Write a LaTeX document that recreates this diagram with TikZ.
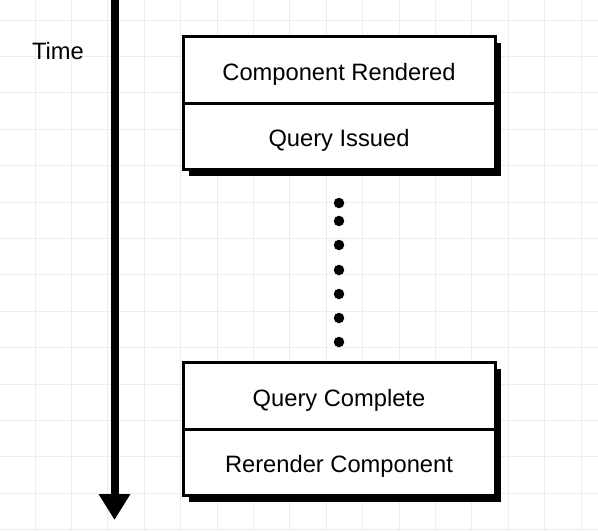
\documentclass[tikz,border=0pt]{standalone}
\usepackage{fontspec}
\setmainfont{Liberation Sans}
\usetikzlibrary{arrows.meta,shadows}
\tikzset{
  cell/.style={draw=black, line width=3pt, fill=white, minimum width=312pt,
    inner sep=0pt, text height=21pt, text depth=0pt,
    font=\fontsize{23.7}{28}\selectfont,
    drop shadow={shadow xshift=6pt, shadow yshift=-7pt, fill=black, opacity=1}},
  gridline/.style={draw=black!7, line width=1pt},
  dot/.style={circle, fill=black, minimum size=10.5pt, inner sep=0pt},
  timearrow/.style={line width=8pt, -{Triangle[length=26pt,width=30pt]}},
  lbl/.style={font=\fontsize{23.7}{28}\selectfont, inner sep=0pt}
}
\begin{document}
\begin{tikzpicture}[x=1pt,y=-1pt]
  \useasboundingbox (0,0) rectangle (598,531);
  \fill[white] (0,0) rectangle (598,531);
  % grid
  \foreach \k in {-1,...,15} \draw[gridline] ({35+36.4*\k},0) -- ({35+36.4*\k},531);
  \foreach \k in {0,...,14} \draw[gridline] (0,{20+36.4*\k}) -- (598,{20+36.4*\k});
  % time axis
  \coordinate (ttop) at (114.5,-2);
  \coordinate (tbot) at (114.5,520);
  \draw[timearrow] (ttop) -- (tbot);
  \node[lbl] (time) at (58,51.5) {Time};
  % first box
  \node[cell, minimum height=67pt] (cr) at (339,69.5) {Component Rendered};
  \node[cell, minimum height=66pt] (qi) at (339,136) {Query Issued};
  % dots
  \foreach \y [count=\i] in {203,221,245,270,294,318,342}
    \node[dot] (d\i) at (339,\y) {};
  % second box
  \node[cell, minimum height=67pt] (qc) at (339,395.5) {Query Complete};
  \node[cell, minimum height=66pt] (rc) at (339,462) {Rerender Component};
\end{tikzpicture}
\end{document}
